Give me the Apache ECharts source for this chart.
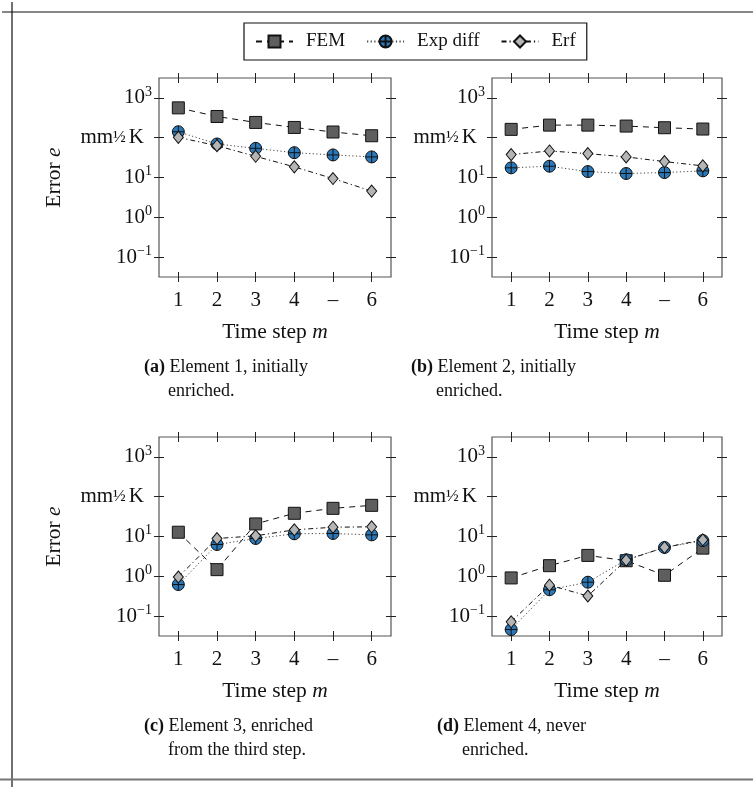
<!DOCTYPE html>
<html>
<head>
<meta charset="utf-8">
<script src="https://cdn.jsdelivr.net/npm/echarts@6/dist/echarts.min.js"></script>
<style>
  html, body { margin: 0; padding: 0; background: #fff; }
  #chart { width: 753px; height: 787px; }
</style>
</head>
<body>
<div id="chart"></div>
<script>
// ---- data -------------------------------------------------------------
const steps = [1, 2, 3, 4, 5, 6];
const stepLabels = ['1', '2', '3', '4', '–', '6'];
const seriesNames = ['FEM', 'Exp diff', 'Erf'];

// error e per time step, one array per element and method
const femElement1 = [562, 341, 242, 181, 139, 112];
const expElement1 = [141, 69.5, 54, 42, 36.9, 32.9];
const erfElement1 = [102, 63, 34, 18.5, 9.4, 4.55];

const femElement2 = [162, 207, 207, 196, 178, 165];
const expElement2 = [17.5, 19.2, 14.1, 12.6, 13.3, 14.7];
const erfElement2 = [37.6, 46.4, 39.8, 32.9, 25.1, 19.6];

const femElement3 = [12.8, 1.47, 20.7, 38.3, 51, 60.7];
const expElement3 = [0.62, 6.3, 8.9, 11.7, 11.9, 11.0];
const erfElement3 = [0.96, 8.9, 10.4, 14.7, 17.1, 17.5];

const femElement4 = [0.91, 1.85, 3.35, 2.46, 1.06, 5.1];
const expElement4 = [0.046, 0.46, 0.71, 2.6, 5.3, 7.9];
const erfElement4 = [0.072, 0.60, 0.32, 2.56, 5.3, 8.25];

const yTickExponents = [-1, 0, 1, 2, 3];
const yTickLabels = ['10{s|−1}', '10{s|0}', '10{s|1}', 'mm{f|½}{k|K}', '10{s|3}'];

const captionTags = ['(a)', '(b)', '(c)', '(d)'];
const captionFirstLines = ['Element 1, initially', 'Element 2, initially', 'Element 3, enriched', 'Element 4, never'];
const captionSecondLines = ['enriched.', 'enriched.', 'from the third step.', 'enriched.'];

// ---- layout & style ---------------------------------------------------
const FONT = '"Liberation Serif", "Times New Roman", serif';
const TEXT = '#111';
const panels = [
  { left: 159, top: 78,  width: 232, height: 199, capX: 144, capIndent: 24, capY: 367.5, yName: true },
  { left: 492, top: 78,  width: 230, height: 199, capX: 411, capIndent: 25, capY: 367.5, yName: false },
  { left: 159, top: 437, width: 232, height: 199, capX: 144, capIndent: 24, capY: 726,   yName: true },
  { left: 492, top: 437, width: 230, height: 199, capX: 437, capIndent: 25, capY: 726,   yName: false }
];
const panelData = [
  [femElement1, expElement1, erfElement1],
  [femElement2, expElement2, erfElement2],
  [femElement3, expElement3, erfElement3],
  [femElement4, expElement4, erfElement4]
];

// circle with a plus inside
const circlePlus = 'path://M0 -10 A10 10 0 1 1 0 10 A10 10 0 1 1 0 -10 Z M-10 0 L10 0 M0 -10 L0 10';
const markStyles = [
  { symbol: 'rect',     size: 12,       fill: '#5e5e5e', stroke: '#111', dash: [6, 5] },
  { symbol: circlePlus, size: 12,       fill: '#2a78b8', stroke: '#444', dash: [1.2, 2.4] },
  { symbol: 'diamond',  size: [10, 12], fill: '#b5b5b5', stroke: '#111', dash: [5, 3, 1.2, 3] }
];

const tickLine = { color: '#222', width: 1 };
const hiddenLine = { show: false, onZero: false };
const nameStyle = {
  fontFamily: FONT, fontSize: 21.5, color: TEXT,
  rich: { i: { fontFamily: FONT, fontSize: 21.5, fontStyle: 'italic', color: TEXT } }
};

const grids = [], xAxes = [], yAxes = [], series = [];

panels.forEach((p, k) => {
  grids.push({
    left: p.left, top: p.top, width: p.width, height: p.height,
    show: true, borderColor: '#555', borderWidth: 1.2, backgroundColor: 'transparent',
    containLabel: false, outerBoundsMode: 'none'
  });

  // x axes: bottom (labels + outer ticks), bottom inner ticks, top outer, top inner
  const xBase = {
    type: 'value', gridIndex: k, min: 0.5, max: 6.5,
    axisLine: hiddenLine, splitLine: { show: false }, axisLabel: { show: false }
  };
  const xTick = inside => ({ show: true, inside, length: 5, customValues: steps, lineStyle: tickLine });
  xAxes.push(Object.assign({}, xBase, {
    position: 'bottom', axisTick: xTick(false),
    axisLabel: {
      show: true, customValues: steps,
      formatter: v => stepLabels[steps.indexOf(v)],
      margin: 13, fontFamily: FONT, fontSize: 21, color: TEXT
    },
    name: 'Time step {i|m}', nameLocation: 'middle', nameGap: 44,
    nameTextStyle: nameStyle
  }));
  xAxes.push(Object.assign({}, xBase, { position: 'bottom', axisTick: xTick(true) }));
  xAxes.push(Object.assign({}, xBase, { position: 'top', axisTick: xTick(false) }));
  xAxes.push(Object.assign({}, xBase, { position: 'top', axisTick: xTick(true) }));

  // y axes: log axis carrying data and labels, plus four tick-only axes in decades
  yAxes.push({
    type: 'log', logBase: 10, gridIndex: k, position: 'left',
    min: Math.pow(10, -1.5), max: Math.pow(10, 3.5),
    axisLine: hiddenLine, axisTick: { show: false }, splitLine: { show: false },
    minorTick: { show: false },
    axisLabel: {
      showMinLabel: false, showMaxLabel: false, margin: 7,
      fontFamily: FONT, fontSize: 21, color: TEXT, lineHeight: 26,
      formatter: v => {
        const e = Math.log10(v);
        const i = yTickExponents.indexOf(Math.round(e));
        return (Math.abs(e - Math.round(e)) < 1e-6 && i >= 0) ? yTickLabels[i] : '';
      },
      rich: {
        s: { fontFamily: FONT, fontSize: 14, color: TEXT, verticalAlign: 'top', lineHeight: 14 },
        f: { fontFamily: FONT, fontSize: 17, color: TEXT },
        k: { fontFamily: FONT, fontSize: 21, color: TEXT, padding: [0, 8, 0, 3] }
      }
    },
    name: p.yName ? 'Error {i|e}' : '', nameLocation: 'middle', nameGap: 94, nameRotate: 90,
    nameTextStyle: nameStyle
  });
  const yTickAxis = (position, inside) => ({
    type: 'value', gridIndex: k, position, min: -1.5, max: 3.5,
    axisLine: hiddenLine, axisLabel: { show: false }, splitLine: { show: false },
    axisTick: { show: true, inside, length: 5, customValues: yTickExponents, lineStyle: tickLine }
  });
  yAxes.push(yTickAxis('left', false), yTickAxis('left', true),
             yTickAxis('right', false), yTickAxis('right', true));

  panelData[k].forEach((values, m) => {
    const st = markStyles[m];
    series.push({
      type: 'line', name: seriesNames[m],
      xAxisIndex: 4 * k, yAxisIndex: 5 * k,
      data: steps.map((s, i) => [s, values[i]]),
      symbol: st.symbol, symbolSize: st.size, showSymbol: true,
      itemStyle: { color: st.fill, borderColor: '#111', borderWidth: 1 },
      lineStyle: { color: st.stroke, width: 1, type: st.dash },
      emphasis: { disabled: true }, silent: true, z: 2 + m
    });
  });
});

// page rules and sub-captions
const graphics = [
  { type: 'line', shape: { x1: 2, y1: 12, x2: 753, y2: 12 }, style: { stroke: '#111', lineWidth: 1.2 } },
  { type: 'line', shape: { x1: 12, y1: 2, x2: 12, y2: 787 }, style: { stroke: '#111', lineWidth: 1.2 } },
  { type: 'line', shape: { x1: 0, y1: 779.5, x2: 753, y2: 779.5 }, style: { stroke: '#777', lineWidth: 2 } }
];
const capFont = { fontFamily: FONT, fontSize: 18, fill: TEXT };
panels.forEach((p, k) => {
  graphics.push({
    type: 'text', x: p.capX, y: p.capY,
    style: Object.assign({}, capFont, {
      text: '{b|' + captionTags[k] + '} ' + captionFirstLines[k],
      verticalAlign: 'middle', align: 'left',
      rich: { b: Object.assign({}, capFont, { fontWeight: 'bold' }) }
    })
  });
  graphics.push({
    type: 'text', x: p.capX + p.capIndent, y: p.capY + 24,
    style: Object.assign({}, capFont, { text: captionSecondLines[k], verticalAlign: 'middle', align: 'left' })
  });
});

const chart = echarts.init(document.getElementById('chart'), null, { renderer: 'canvas' });
chart.setOption({
  backgroundColor: '#fff',
  animation: false,
  legend: {
    data: seriesNames, left: 244, top: 23, orient: 'horizontal',
    padding: [9, 11, 9, 11], itemGap: 21, itemWidth: 37, itemHeight: 15,
    borderColor: '#111', borderWidth: 1.2, selectedMode: false,
    textStyle: { fontFamily: FONT, fontSize: 19, color: TEXT, padding: [0, 0, 0, 8] }
  },
  grid: grids,
  xAxis: xAxes,
  yAxis: yAxes,
  series: series,
  graphic: graphics
});
</script>
</body>
</html>
